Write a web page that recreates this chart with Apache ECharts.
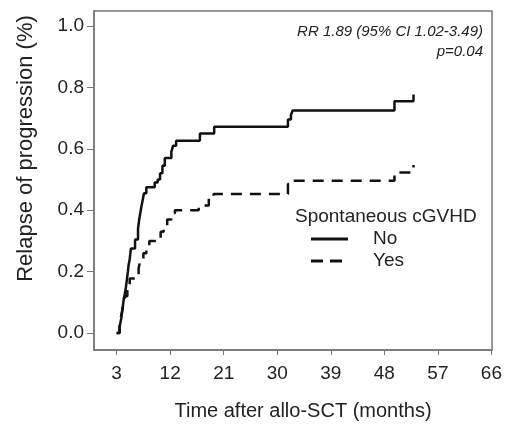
<!DOCTYPE html>
<html>
<head>
<meta charset="utf-8">
<script src="https://cdn.jsdelivr.net/npm/echarts@6/dist/echarts.min.js"></script>
<style>
  html, body { margin: 0; padding: 0; background: #ffffff; }
  #main { width: 505px; height: 426px; }
</style>
</head>
<body>
<div id="main"></div>
<script>
// cumulative incidence steps
const noMonths = [3.0, 3.5, 3.8, 4.0, 4.2, 4.5, 4.7, 4.9, 5.0, 5.2, 5.4, 6.1, 6.6, 6.8, 7.1, 7.4, 7.6, 8.0, 9.4, 9.9, 10.3, 10.7, 11.1, 12.2, 12.5, 13.0, 17.0, 19.4, 31.8, 32.3, 32.6, 49.7, 52.9];
const noRelapse = [0.00, 0.02, 0.05, 0.08, 0.11, 0.14, 0.17, 0.20, 0.22, 0.24, 0.275, 0.305, 0.34, 0.37, 0.405, 0.435, 0.455, 0.475, 0.49, 0.50, 0.52, 0.545, 0.57, 0.59, 0.61, 0.626, 0.65, 0.672, 0.695, 0.71, 0.725, 0.755, 0.777];
const yesMonths = [3.0, 3.5, 3.8, 4.1, 4.4, 4.8, 5.2, 6.7, 7.0, 7.5, 8.0, 8.5, 10.4, 10.9, 11.5, 12.2, 12.8, 16.8, 18.5, 19.3, 31.8, 32.5, 49.7, 52.9];
const yesRelapse = [0.00, 0.03, 0.06, 0.09, 0.12, 0.15, 0.178, 0.21, 0.24, 0.26, 0.28, 0.30, 0.33, 0.35, 0.37, 0.39, 0.40, 0.415, 0.44, 0.453, 0.485, 0.496, 0.523, 0.547];
const xTicks = [3, 12, 21, 30, 39, 48, 57, 66];
const yTicks = [0, 0.2, 0.4, 0.6, 0.8, 1.0];

const font = "'Liberation Sans', Arial, sans-serif";
const ink = "#222222";
const frame = "#777777";

const chart = echarts.init(document.getElementById("main"));

const pairs = (xs, ys) => xs.map((x, i) => [x, ys[i]]);

const note = (text, top) => ({
  type: "text",
  right: 22,
  top: top,
  style: {
    text: text,
    fontFamily: font,
    fontSize: 15,
    fontStyle: "italic",
    fill: ink,
  },
});

let option = {
  animation: false,
  textStyle: { fontFamily: font, color: ink },
  grid: {
    left: 94,
    right: 12,
    top: 11,
    bottom: 74,
    show: true,
    borderColor: frame,
    borderWidth: 1.5,
  },
  title: {
    text: "Spontaneous cGVHD",
    left: 295,
    top: 207,
    padding: 0,
    textStyle: { fontFamily: font, fontSize: 19, fontWeight: "normal", color: ink },
  },
  legend: {
    orient: "vertical",
    left: 311,
    top: 229,
    padding: 0,
    itemWidth: 37,
    itemHeight: 3,
    itemGap: 2,
    symbolKeepAspect: false,
    data: [
      { name: "No", icon: "path://M0 0H37V3H0Z" },
      { name: "Yes", icon: "path://M0 0H12V3H0Z M19 0H31V3H19Z M36.95 0H37V0.01H36.95Z" },
    ],
    itemStyle: { color: "#111111" },
    textStyle: { fontFamily: font, fontSize: 19, lineHeight: 20, color: ink, padding: [0, 0, 0, 20] },
  },
  graphic: [note("RR 1.89 (95% CI 1.02-3.49)", 24), note("p=0.04", 44)],
  xAxis: {
    type: "value",
    min: -0.8,
    max: 66.1,
    name: "Time after allo-SCT (months)",
    nameLocation: "middle",
    nameGap: 51,
    nameTextStyle: { fontFamily: font, fontSize: 20, color: ink, padding: [0, 0, 0, 20] },
    axisLine: { show: true, onZero: false, lineStyle: { color: frame, width: 1.5 } },
    axisTick: { show: true, length: 5, customValues: xTicks, lineStyle: { color: frame } },
    axisLabel: { customValues: xTicks, fontSize: 19, margin: 14, color: ink, fontFamily: font },
    splitLine: { show: false },
  },
  yAxis: {
    type: "value",
    min: -0.055,
    max: 1.0485,
    name: "Relapse of progression (%)",
    nameLocation: "middle",
    nameRotate: 90,
    nameGap: 57,
    nameTextStyle: { fontFamily: font, fontSize: 22, color: ink, padding: [0, 0, 0, 64] },
    axisLine: { show: true, onZero: false, lineStyle: { color: frame, width: 1.5 } },
    axisTick: { show: true, length: 7, customValues: yTicks, lineStyle: { color: frame } },
    axisLabel: {
      customValues: yTicks,
      fontSize: 19,
      margin: 10,
      color: ink,
      fontFamily: font,
      formatter: (v) => v.toFixed(1),
    },
    splitLine: { show: false },
  },
  series: [
    {
      name: "No",
      type: "line",
      step: "end",
      symbol: "none",
      data: pairs(noMonths, noRelapse),
      lineStyle: { color: "#111111", width: 2.5 },
      itemStyle: { color: "#111111" },
    },
    {
      name: "Yes",
      type: "line",
      step: "end",
      symbol: "none",
      data: pairs(yesMonths, yesRelapse),
      lineStyle: { color: "#111111", width: 2.5, type: [11, 8] },
      itemStyle: { color: "#111111" },
    },
  ],
};

chart.setOption(option);
</script>
</body>
</html>
